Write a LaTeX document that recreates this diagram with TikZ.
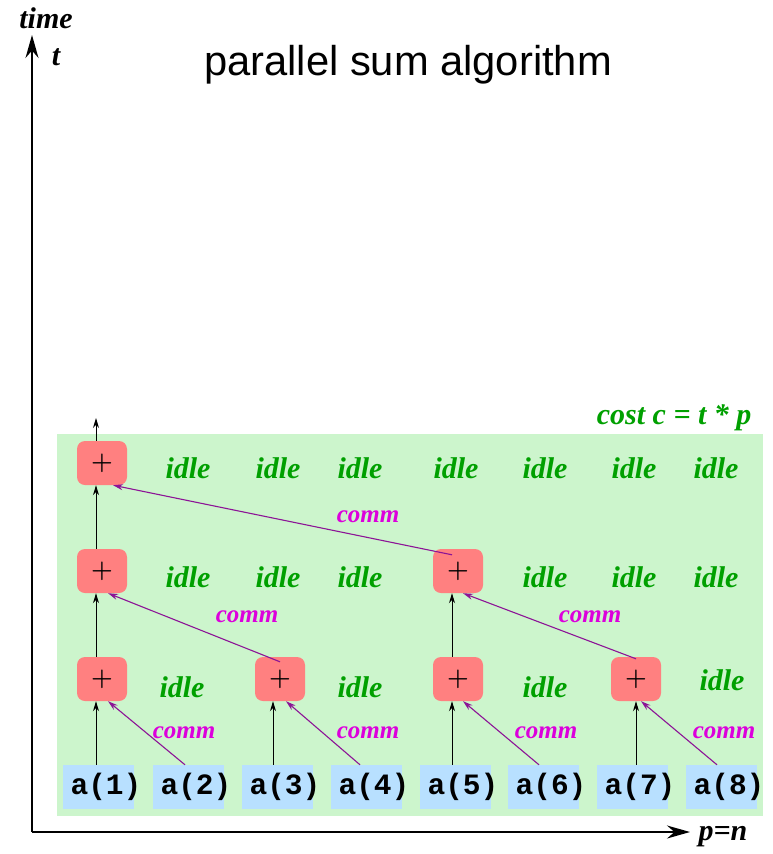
\documentclass[tikz,border=0pt]{standalone}
\usepackage{fontspec}
\setmainfont{Liberation Serif}
\setsansfont{Liberation Sans}
\setmonofont{Liberation Mono}
\usetikzlibrary{arrows.meta,calc}

\definecolor{bgGreen}{RGB}{204,245,204}
\definecolor{idleGreen}{RGB}{0,160,0}
\definecolor{plusRed}{RGB}{255,128,128}
\definecolor{cellBlue}{RGB}{184,224,255}
\definecolor{commArrow}{RGB}{140,20,150}
\definecolor{commText}{RGB}{220,0,220}

\tikzset{
  plusbox/.style={fill=plusRed, rounded corners=8pt, minimum width=50pt,
    minimum height=44pt, inner sep=0pt, font=\fontsize{30}{30}\selectfont\boldmath},
  cell/.style={fill=cellBlue, minimum width=71pt, minimum height=44pt, inner sep=0pt},
  celltxt/.style={font=\ttfamily\bfseries\fontsize{29.5}{30}\selectfont, inner sep=0pt},
  idletxt/.style={text=idleGreen, font=\bfseries\itshape\fontsize{30}{30}\selectfont},
  commtxt/.style={text=commText, font=\bfseries\itshape\fontsize{25}{25}\selectfont},
  axislbl/.style={font=\bfseries\itshape\fontsize{30}{30}\selectfont},
  flow/.style={-{Stealth[length=10pt,width=6pt]}, line width=1pt},
  commflow/.style={flow, draw=commArrow, line width=1.1pt},
  axisarrow/.style={-{Stealth[length=23pt,width=13pt]}, line width=1.5pt},
}

\begin{document}
\begin{tikzpicture}[x=1pt, y=-1pt]
  \useasboundingbox (0,0) rectangle (773,854);

  % background area (cost)
  \fill[bgGreen] (57,434) rectangle (763,816);
  \node[idletxt, anchor=east] (cost) at (755,418) {cost c = t * p};

  % title
  \node[font=\sffamily\fontsize{41.7}{42}\selectfont] (title) at (408,65) {parallel sum algorithm};

  % axes
  \coordinate (origin) at (32,832);
  \coordinate (ttop) at (32,35);
  \coordinate (pend) at (690,832);
  \draw[axisarrow] (origin) -- (ttop);
  \draw[axisarrow] (origin) -- (pend);
  \node[axislbl] (timelbl) at (46,18) {time};
  \node[axislbl] (tlbl) at (56,57) {t};
  \node[axislbl, anchor=west] (plbl) at (695,837) {p=n};

  % input cells
  \foreach \i/\x in {1/98,2/188,3/277,4/366,5/455,6/543,7/632,8/721}{
    \node[cell, label={[celltxt, xshift=8pt]center:a(\i)}] (a\i) at (\x,787) {};
  }

  % adders
  \node[plusbox] (p31) at (102,679) {$+$};
  \node[plusbox] (p32) at (280,679) {$+$};
  \node[plusbox] (p33) at (458,679) {$+$};
  \node[plusbox] (p34) at (636,679) {$+$};
  \node[plusbox] (p21) at (102,571) {$+$};
  \node[plusbox] (p22) at (458,571) {$+$};
  \node[plusbox] (p11) at (102,463) {$+$};
  \coordinate (result) at (96,418);

  % local (vertical) steps
  \draw[flow] ([xshift=-2pt]a1.north) -- ([xshift=-2pt]a1.north |- p31.south);
  \draw[flow] ([xshift=-4pt]a3.north) -- ([xshift=-4pt]a3.north |- p32.south);
  \draw[flow] ([xshift=-3pt]a5.north) -- ([xshift=-3pt]a5.north |- p33.south);
  \draw[flow] ([xshift=4pt]a7.north) -- ([xshift=4pt]a7.north |- p34.south);
  \draw[flow] ([xshift=-6pt]p31.north) -- ([xshift=-6pt]p21.south);
  \draw[flow] ([xshift=-6pt]p33.north) -- ([xshift=-6pt]p22.south);
  \draw[flow] ([xshift=-6pt]p21.north) -- ([xshift=-6pt]p11.south);
  \draw[flow] ([xshift=-6pt]p11.north) -- (result);

  % communication steps
  \draw[commflow] ([xshift=-3pt]a2.north) -- ([xshift=6pt]p31.south);
  \draw[commflow] ([xshift=-6pt]a4.north) -- ([xshift=6pt]p32.south);
  \draw[commflow] ([xshift=-4pt]a6.north) -- ([xshift=5pt]p33.south);
  \draw[commflow] ([xshift=-4pt]a8.north) -- ([xshift=5pt]p34.south);
  \draw[commflow] ([yshift=-5pt]p32.north) -- ([xshift=6pt]p21.south);
  \draw[commflow] ([yshift=-2pt]p34.north) -- ([xshift=5pt]p22.south);
  \draw[commflow] ([xshift=-6pt,yshift=-6pt]p22.north) -- ([xshift=11pt]p11.south);

  \node[commtxt] (c1) at (184,733) {comm};
  \node[commtxt] (c2) at (368,733) {comm};
  \node[commtxt] (c3) at (546,733) {comm};
  \node[commtxt] (c4) at (724,733) {comm};
  \node[commtxt] (c5) at (247,617) {comm};
  \node[commtxt] (c6) at (590,617) {comm};
  \node[commtxt] (c7) at (368,517) {comm};

  % idle processors
  \foreach \x in {188,278,360,456,545,634,716}{
    \node[idletxt] at (\x,468) {idle};
  }
  \foreach \x in {188,278,360,545,634,716}{
    \node[idletxt] at (\x,577) {idle};
  }
  \foreach \x/\y in {182/687,360/687,545/687,722/680}{
    \node[idletxt] at (\x,\y) {idle};
  }
\end{tikzpicture}
\end{document}
